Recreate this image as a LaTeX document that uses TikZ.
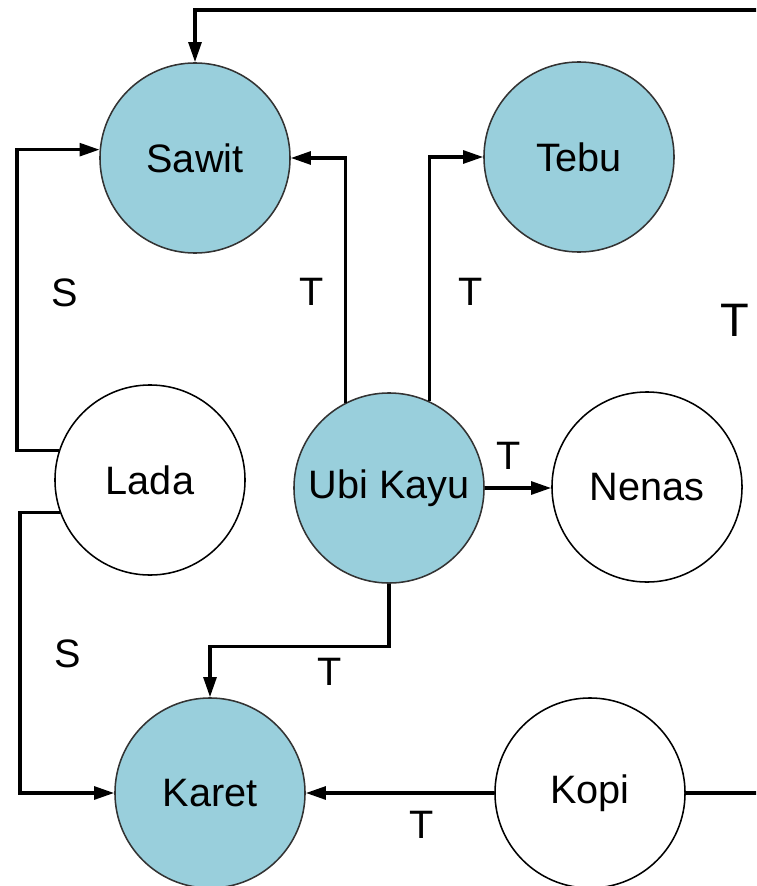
\documentclass[tikz,border=0pt]{standalone}
\usepackage{fontspec}
\setmainfont{Liberation Sans}
\usepackage{tikz}
\usetikzlibrary{arrows.meta, positioning, calc}
\definecolor{tanam}{HTML}{99CFDC}

\begin{document}
\begin{tikzpicture}[x=0.025cm, y=-0.025cm,
    crop/.style={circle, draw=black!80, line width=1.1pt, minimum size=4.75cm, inner sep=0pt,
      font=\fontsize{28.2}{33}\selectfont},
    utama/.style={crop, fill=tanam},
    lain/.style={crop, fill=white, draw=black},
    link/.style={line width=2.3pt, -{Triangle[length=5mm, width=3.2mm]}},
    lbl/.style={font=\fontsize{28.2}{33}\selectfont}]
  \clip (0,0) rectangle (756,886);
  % Lingkaran tanaman
  \node[utama] (sawit) at (195,158) {Sawit};
  \node[utama] (tebu) at (579,157) {Tebu};
  \node[lain] (lada) at (150,480) {Lada};
  \node[utama] (ubi) at (389,488) {Ubi Kayu};
  \node[lain] (nenas) at (647,487) {Nenas};
  \node[utama] (karet) at (210,793) {Karet};
  \node[lain] (kopi) at (590,793) {Kopi};
  % Hubungan
  \coordinate (luar) at (800,10);
  \draw[link] (kopi.east) -| (luar) -| (sawit.north);
  \draw[link] (lada.162) -- ++(-42,0) |- (sawit.175);
  \draw[link] (lada.200) -- ++(-40,0) |- (karet.west);
  \draw[link] (ubi.117) |- (sawit.east);
  \draw[link] (ubi.65) |- (tebu.west);
  \draw[link] (ubi.east) -- (ubi.east -| nenas.west);
  \draw[link] (ubi.south) -- ++(0,63) -| (karet.north);
  \draw[link] (kopi.west) -- (karet.east);
  % Label
  \node[lbl] (s1) at (65,293) {S};
  \node[lbl] (s2) at (68,654) {S};
  \node[lbl] (t1) at (312,292) {T};
  \node[lbl] (t2) at (471,292) {T};
  \node[lbl] (t3) at (509,456) {T};
  \node[lbl] (t4) at (330,672) {T};
  \node[lbl] (t5) at (422,825) {T};
  \node[font=\fontsize{33.4}{40}\selectfont] (t6) at (735,320) {T};
\end{tikzpicture}
\end{document}
